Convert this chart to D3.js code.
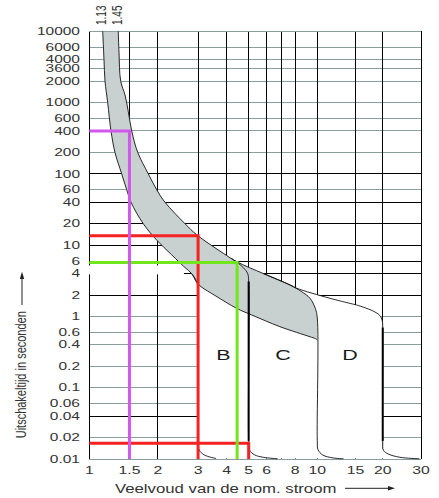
<!DOCTYPE html>
<html><head><meta charset="utf-8">
<script src="https://cdn.jsdelivr.net/npm/d3@7"></script>
<style>
html,body{margin:0;padding:0;background:#fff;}
svg{display:block;}
text{font-family:"Liberation Sans",Arial,Helvetica,sans-serif;}
</style></head><body>
<svg id="chart" width="439" height="498"></svg>
<script>
// ---------- data ----------
const xTickValues = [1, 1.5, 2, 3, 4, 5, 6, 8, 10, 15, 20, 30];
const xTickLabels = ["1", "1.5", "2", "3", "4", "5", "6", "8", "10", "15", "20", "30"];
const xGridValues = [1, 1.5, 2, 3, 4, 5, 6, 7, 8, 10, 15, 20, 30];
// grid line positions (the line labelled 3600 sits at the 3000 position in the original)
const yGridValues = [10000, 6000, 4000, 3000, 2000, 1000, 600, 400, 200, 100, 60, 40, 20, 10, 6, 4, 2, 1, 0.6, 0.4, 0.2, 0.1, 0.06, 0.04, 0.02, 0.01];
const yTickLabels = ["10000", "6000", "4000", "3600", "2000", "1000", "600", "400", "200", "100", "60", "40", "20", "10", "6", "4", "2", "1", "0.6", "0.4", "0.2", "0.1", "0.06", "0.04", "0.02", "0.01"];
const yMajorGrid = [100, 40, 20, 10, 6, 4, 2, 0.04];

const curveLabels = ["1.13", "1.45"];
// lower thermal limit (1.13 In)
const thermalLow = [[1.145,10000],[1.16,4000],[1.172,2000],[1.204,1000],[1.245,400],[1.296,200],[1.387,100],[1.459,60],[1.524,40],[1.725,20],[1.975,11.8],[2.3,7.3],[2.63,4.85],[2.81,4.0],[2.96,3.0],[3.1,2.6],[3.56,1.97],[4.43,1.3],[5.16,1.05],[6.86,0.72],[9.29,0.52],[9.8,0.49],[10,0.47]];
// upper thermal limit (1.45 In)
const thermalHigh = [[1.34,10000],[1.35,5000],[1.373,2000],[1.434,1280],[1.483,745],[1.535,400],[1.631,200],[1.815,100],[1.975,60],[2.148,40],[2.63,20],[2.958,14],[3.87,7.7],[4.43,5.87],[5.8,4.0],[7.59,2.77],[8.12,2.49],[11.44,1.8],[15.18,1.45]];
// magnetic trip curves
const bTripLow  = [[2.81,4.0],[2.93,3.3],[2.99,2.7],[3,2.2],[3,0.018],[3.03,0.0135],[3.2,0.0114],[3.6,0.0102]];
const bTripHigh = [[4.2,6.53],[4.45,5.75],[4.75,4.8],[4.95,4.0],[5,3.1],[5,0.018],[5.05,0.0133],[5.3,0.0115],[5.8,0.0106],[6.7,0.0101]];
const cTrip     = [[5.8,4.0],[7.59,2.77],[8.5,2.25],[9.29,1.8],[9.8,1.3],[10,0.95],[10,0.018],[10.08,0.0135],[10.6,0.0114],[11.8,0.0104],[13.2,0.0101]];
const dTrip     = [[15.18,1.45],[18.0,1.2],[19.4,1.03],[19.9,0.87],[20,0.7],[20,0.018],[20.15,0.0133],[21.2,0.0118],[24,0.0106],[29.5,0.0101]];

const tripNames = ["B", "C", "D"];
const tripRanges = [[3,5],[5,10],[10,20]];
const tripLabelTime = 0.29;

// example read-off lines
const magentaLine = [[1,400],[1.5,400],[1.5,0.01]];
const redLineTop = [[1,13.6],[3,13.6],[3,0.01]];
const redLineBottom = [[1,0.0167],[5,0.0167],[5,0.01]];
const greenLine = [[1,5.7],[4.45,5.7],[4.45,0.01]];

// ---------- drawing ----------
const svg = d3.select("#chart");
const x = d3.scaleLog().domain([1, 10, 30]).range([89.3, 317.3, 421]);
const y = d3.scaleLog().domain([0.01, 10000]).range([459.1, 31.3]);

const curve = d3.line().x(d => x(d[0])).y(d => y(d[1])).curve(d3.curveCatmullRom.alpha(0.5));
const straight = d3.line().x(d => x(d[0])).y(d => y(d[1]));
const cont = s => s.replace(/^M/, "L");

const GRIDGRAY = "#8a9d9d";
const grid = svg.append("g").attr("shape-rendering", "crispEdges");
grid.selectAll("line.h").data(yGridValues).join("line")
  .attr("x1", x(1)).attr("x2", x(30))
  .attr("y1", d => y(d)).attr("y2", d => y(d))
  .attr("stroke", d => yMajorGrid.includes(d) ? "#000" : GRIDGRAY)
  .attr("stroke-width", 1);
grid.selectAll("line.v").data(xGridValues).join("line")
  .attr("x1", d => x(d)).attr("x2", d => x(d))
  .attr("y1", y(10000)).attr("y2", y(0.01))
  .attr("stroke", "#000").attr("stroke-width", 1);

// white tripping zone (hides grid below the curves)
const iB = thermalLow.findIndex(p => p[0] === bTripLow[0][0] && p[1] === bTripLow[0][1]);
const last = bTripLow[bTripLow.length - 1];
const dEnd = dTrip[dTrip.length - 1];
const whiteD = curve(thermalLow.slice(0, iB + 1)) + cont(curve(bTripLow)) +
  "L" + x(last[0]) + "," + (y(0.01) - 0.5) + "L" + x(dEnd[0]) + "," + (y(0.01) - 0.5) +
  cont(curve(dTrip.slice().reverse())) + cont(curve(thermalHigh.slice().reverse())) + "Z";
svg.append("path").attr("d", whiteD).attr("fill", "#fff");

// grey thermal band
const iC = cTrip.findIndex(p => p[0] === 10);
const iU = thermalHigh.findIndex(p => p[0] === cTrip[0][0] && p[1] === cTrip[0][1]);
const grayD = curve(thermalLow) + cont(curve(cTrip.slice(0, iC + 1).reverse())) +
  cont(curve(thermalHigh.slice(0, iU + 1).reverse())) + "Z";
svg.append("path").attr("d", grayD).attr("fill", "#c9d0d0");

// small white scan artefact across the left of the 4 s line
svg.append("rect")
  .attr("x", x(1) - 3).attr("y", y(5.2))
  .attr("width", x(2.6) - x(1) + 3).attr("height", y(3.9) - y(5.2))
  .attr("fill", "#fff");

// borders redrawn over fills
svg.append("line").attr("x1", x(1)).attr("x2", x(30)).attr("y1", y(0.01)).attr("y2", y(0.01))
  .attr("stroke", GRIDGRAY).attr("shape-rendering", "crispEdges");
svg.append("line").attr("x1", x(1)).attr("x2", x(30)).attr("y1", y(10000)).attr("y2", y(10000))
  .attr("stroke", GRIDGRAY).attr("shape-rendering", "crispEdges");

// curve outlines
const outlines = svg.append("g").attr("fill", "none").attr("stroke", "#111").attr("stroke-width", 0.9);
[thermalLow, thermalHigh, bTripLow, bTripHigh, cTrip, dTrip].forEach(pts => {
  outlines.append("path").attr("d", curve(pts));
});
// thick magnetic verticals for B and D
[[bTripHigh, 5], [dTrip, 20]].forEach(([pts, v]) => {
  svg.append("path").attr("d", straight(pts.filter(p => p[0] === v)))
    .attr("stroke", "#000").attr("stroke-width", 2).attr("fill", "none");
});

// coloured read-off lines
const colored = [[redLineTop, "#f42222"], [redLineBottom, "#f42222"], [greenLine, "#72e61c"], [magentaLine, "#d257ec"]];
colored.forEach(([pts, c]) => {
  svg.append("path").attr("d", straight(pts)).attr("fill", "none")
    .attr("stroke", c).attr("stroke-width", 3).attr("stroke-linejoin", "miter");
});

// ---------- text ----------
const TXT = "#333";
svg.append("g").selectAll("text").data(yGridValues).join("text")
  .attr("transform", d => `translate(80,${y(d)}) scale(1.55,1)`)
  .attr("dy", "0.36em").attr("text-anchor", "end")
  .attr("font-size", 10).attr("fill", TXT)
  .text((d, i) => yTickLabels[i]);

svg.append("g").selectAll("text").data(xTickValues).join("text")
  .attr("transform", d => `translate(${x(d)},473.5) scale(1.58,1)`)
  .attr("text-anchor", "middle")
  .attr("font-size", 10).attr("fill", TXT)
  .text((d, i) => xTickLabels[i]);

// curve labels at the top
[[thermalLow, 3], [thermalHigh, 4]].forEach(([pts, off], i) => {
  svg.append("text")
    .attr("transform", `translate(${x(pts[0][0]) + off},25) scale(1.55,1) rotate(-90)`)
    .attr("font-size", 10).attr("fill", TXT)
    .text(curveLabels[i]);
});

// B, C, D
svg.append("g").selectAll("text").data(tripNames).join("text")
  .attr("transform", (d, i) => `translate(${x(Math.sqrt(tripRanges[i][0] * tripRanges[i][1]))},${y(tripLabelTime)}) scale(1.43,1)`)
  .attr("dy", "0.36em").attr("text-anchor", "middle")
  .attr("font-size", 15).attr("fill", "#1a1a1a")
  .text(d => d);

// axis titles
svg.append("text")
  .attr("transform", "translate(115,493.3) scale(1.34,1)")
  .attr("font-size", 12.5).attr("fill", TXT)
  .text("Veelvoud van de nom. stroom");
svg.append("line").attr("x1", 345).attr("x2", 389).attr("y1", 488.3).attr("y2", 488.3)
  .attr("stroke", "#222").attr("stroke-width", 1);
svg.append("path").attr("d", "M395,488.3L388,486L388,490.6Z").attr("fill", "#222");

svg.append("text")
  .attr("transform", "translate(25.5,438.3) scale(1.4,1) rotate(-90)")
  .attr("font-size", 11).attr("fill", TXT)
  .text("Uitschakeltijd in seconden");
svg.append("line").attr("x1", 22).attr("x2", 22).attr("y1", 305).attr("y2", 278)
  .attr("stroke", "#222").attr("stroke-width", 1);
svg.append("path").attr("d", "M22,271.7L19.8,279L24.2,279Z").attr("fill", "#222");
</script>
</body></html>
